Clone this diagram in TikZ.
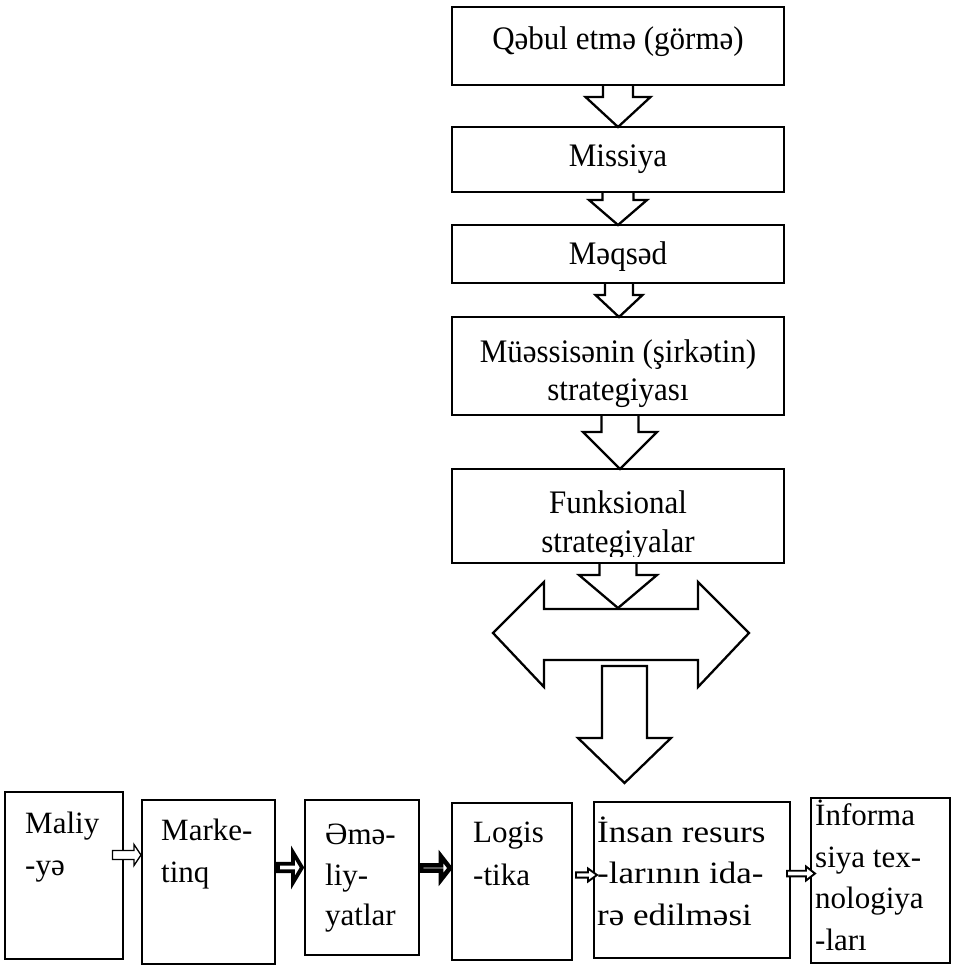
\documentclass[tikz,border=0pt]{standalone}
\usepackage{fontspec}
\usepackage{graphicx}
\setmainfont{Liberation Serif}
\usetikzlibrary{calc}

% vertical block arrow: x centre, shaft top, head base, tip, shaft half width, head half width
\newcommand\blockdown[7][]{%
  \draw[blockarrow,#1] (#2-#6,#3) -- (#2-#6,#4) -- (#2-#7,#4) -- (#2,#5)
    -- (#2+#7,#4) -- (#2+#6,#4) -- (#2+#6,#3);}
% horizontal block arrow: style, x start, head base, tip, y centre, shaft half height, head half height
\newcommand\blockright[7]{%
  \draw[#1] (#2,#5-#6) -- (#3,#5-#6) -- (#3,#5-#7) -- (#4,#5)
    -- (#3,#5+#7) -- (#3,#5+#6) -- (#2,#5+#6) -- cycle;}
% slightly widened lettering for the human-resources box
\newcommand\wide[1]{\scalebox{1.13}[1]{#1}}
% slightly taller lettering for the strategy chain
\newcommand\tall[1]{\scalebox{1}[1.06]{#1}}

\begin{document}
\begin{tikzpicture}[x=1pt,y=-1pt,
  topbox/.style={draw, line width=2.7pt, inner sep=0pt, outer sep=0pt},
  botbox/.style={draw, line width=1.4pt, inner sep=0pt, outer sep=0pt},
  blockarrow/.style={draw, line width=2.3pt, line join=miter},
  toptext/.style={inner sep=0pt, anchor=base, font=\fontsize{31}{38}\selectfont},
  bottext/.style={inner sep=0pt, anchor=base west, font=\fontsize{31}{41}\selectfont},
  thinarrow/.style={draw, fill=white, line width=1.3pt, line join=miter},
  midarrow/.style={draw, fill=white, line width=1.9pt, line join=miter},
  heavyarrow/.style={draw, fill=white, line width=3.8pt, line join=miter},
  heaviestarrow/.style={draw, fill=white, line width=4.6pt, line join=miter}]
\useasboundingbox (0,0) rectangle (953,965);

% ---- main chain ----
\node[topbox, minimum width=332pt, minimum height=78pt] (b1) at (618,46) {};
\node[topbox, minimum width=332pt, minimum height=65pt] (b2) at (618,159.5) {};
\node[topbox, minimum width=332pt, minimum height=58pt] (b3) at (618,254) {};
\node[topbox, minimum width=332pt, minimum height=98pt] (b4) at (618,366) {};
\node[topbox, minimum width=332pt, minimum height=94pt] (b5) at (618,516) {};

\node[toptext] (t1) at (618,50) {\tall{Qəbul etmə (görmə)}};
\node[toptext] (t2) at (618,167) {\tall{Missiya}};
\node[toptext] (t3) at (618,265) {\tall{Məqsəd}};
\node[toptext] (t4a) at (618,362) {\tall{Müəssisənin (şirkətin)}};
\node[toptext] (t4b) at (618,400) {\tall{strategiyası}};
\node[toptext] (t5a) at (618,513) {\tall{Funksional}};
\begin{scope}
  \clip (452,469) rectangle (784,556);
  \node[toptext] (t5b) at (618,552) {\tall{strategiyalar}};
\end{scope}

\blockdown{618}{85}{97}{127}{15}{32.5}
\blockdown{618}{192}{200}{225}{15.5}{29}
\blockdown{619}{283}{295}{317}{14}{23.5}
\blockdown{620}{415}{432}{469}{18.5}{37}

% ---- split into the functional areas ----
\draw[blockarrow, fill=white] (493,633) -- (544,582) -- (544,609) -- (698,609)
  -- (698,582) -- (749,633) -- (698,687) -- (698,660) -- (544,660)
  -- (544,687) -- cycle;
\blockdown{618}{563}{575}{608}{18.5}{39}
\draw[blockarrow] (602,666) -- (602,738) -- (578,738) -- (624.5,783)
  -- (671,738) -- (647,738) -- (647,666) -- cycle;

% ---- functional areas ----
\node[botbox, minimum width=118pt, minimum height=167pt] (m1) at (64,875.5) {};
\node[botbox, minimum width=133pt, minimum height=164pt] (m2) at (208.5,882) {};
\node[botbox, minimum width=114pt, minimum height=155pt] (m3) at (362,877.5) {};
\node[botbox, minimum width=120pt, minimum height=157pt] (m4) at (512,881.5) {};
\node[botbox, minimum width=196pt, minimum height=156pt] (m5) at (692,880) {};
\node[botbox, minimum width=139pt, minimum height=165pt] (m6) at (880.5,880.5) {};

\node[bottext] (m1a) at (25,833) {Maliy};
\node[bottext] (m1b) at (25,875) {-yə};
\node[bottext] (m2a) at (161,840) {Marke-};
\node[bottext] (m2b) at (161,882) {tinq};
\node[bottext] (m3a) at (325,844) {Əmə-};
\node[bottext] (m3b) at (325,885) {liy-};
\node[bottext] (m3c) at (325,925) {yatlar};
\node[bottext] (m4a) at (473,842) {Logis};
\node[bottext] (m4b) at (473,885) {-tika};
\node[bottext] (m5a) at (597,842) {\wide{İnsan resurs}};
\node[bottext] (m5b) at (597,883) {\wide{-larının ida-}};
\node[bottext] (m5c) at (597,925) {\wide{rə edilməsi}};
\node[bottext] (m6a) at (815,825) {İnforma};
\node[bottext] (m6b) at (815,867) {siya tex-};
\node[bottext] (m6c) at (815,908) {nologiya};
\node[bottext] (m6d) at (815,950) {-ları};

\blockright{thinarrow}{112.5}{134}{141}{855}{4.5}{10.5}
\blockright{heavyarrow}{278}{293}{302}{867.5}{3.8}{15}
\blockright{heaviestarrow}{421}{441}{450}{868}{2.6}{11.5}
\blockright{midarrow}{576}{588}{597}{875}{2.6}{6.5}
\blockright{midarrow}{787}{806}{815}{873.5}{2.8}{7}
\end{tikzpicture}
\end{document}
